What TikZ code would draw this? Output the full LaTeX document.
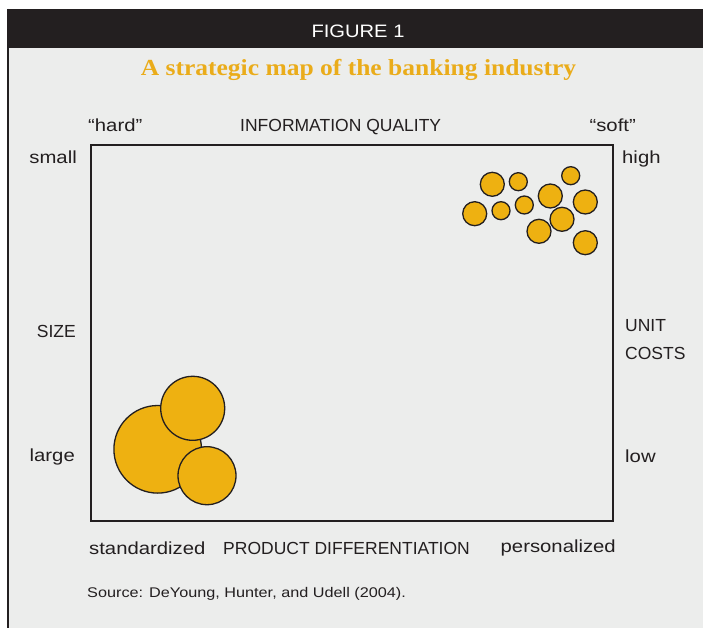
\documentclass[tikz,border=0pt]{standalone}
\usepackage{fontspec}
\setmainfont{Liberation Sans}
\newfontfamily\widefont[FakeStretch=1.16]{Liberation Sans}
\newfontfamily\figfont[FakeStretch=1.12]{Liberation Sans}
\newfontfamily\titlefont[FakeStretch=1.11]{Liberation Serif}
\definecolor{bggray}{HTML}{ECEDEC}
\definecolor{dark}{HTML}{231F20}
\definecolor{gold}{HTML}{EEB111}
\definecolor{titlegold}{HTML}{EAAC1A}
\begin{document}
\begin{tikzpicture}[x=1pt,y=-1pt,
  lbl/.style={inner sep=0pt,font=\fontsize{17.5}{20}\selectfont,text=dark},
  wlbl/.style={inner sep=0pt,font=\widefont\fontsize{17.5}{20}\selectfont,text=dark},
  src/.style={inner sep=0pt,font=\widefont\fontsize{14}{16}\selectfont,text=dark},
  ball/.style={circle,draw=dark,line width=1.3pt,fill=gold,inner sep=0pt,minimum size=#1}]
\useasboundingbox (0,0) rectangle (703,628);
\fill[white] (0,0) rectangle (703,628);
\fill[bggray] (8,9) rectangle (703,628);
\fill[dark] (8,9) rectangle (703,48);
\draw[dark,line width=2pt] (8,9) -- (8,628);
\node[inner sep=0pt,anchor=base,text=white,font=\figfont\fontsize{18}{20}\selectfont] (fig) at (358,37.7) {FIGURE 1};
\node[inner sep=0pt,anchor=base,text=titlegold,font=\titlefont\bfseries\fontsize{23}{25}\selectfont] (title) at (358.5,76) {A strategic map of the banking industry};
% frame
\draw[dark,line width=2.5pt] (91,145) rectangle (613,521);
\node[wlbl,anchor=base west] (hard) at (88,131.5) {“hard”};
\node[lbl,anchor=base west] (iq) at (240,131.5) {INFORMATION QUALITY};
\node[wlbl,anchor=base east] (soft) at (636,131.5) {“soft”};
\node[wlbl,anchor=base east] (small) at (77,164) {small};
\node[wlbl,anchor=base west] (high) at (622,164) {high};
\node[lbl,anchor=base east] (size) at (76,337.5) {SIZE};
\node[lbl,anchor=base west] (unit) at (625,331.5) {UNIT};
\node[lbl,anchor=base west] (costs) at (625,359.5) {COSTS};
\node[wlbl,anchor=base east] (large) at (75,461) {large};
\node[wlbl,anchor=base west] (low) at (625,462) {low};
\node[wlbl,anchor=base west] (std) at (89,554) {standardized};
\node[lbl,anchor=base west] (pd) at (223,554.5) {PRODUCT DIFFERENTIATION};
\node[wlbl,anchor=base east] (pers) at (616,552.3) {personalized};
\node[src,anchor=base west] (source) at (87,597.7) {Source: DeYoung, Hunter, and Udell (2004).};
% small banks
\node[ball=24pt] (s1) at (492.3,184.3) {};
\node[ball=18pt] (s2) at (518.3,181.7) {};
\node[ball=18pt] (s3) at (570.7,175.7) {};
\node[ball=24pt] (s4) at (550.3,196) {};
\node[ball=24pt] (s5) at (585.3,202) {};
\node[ball=24pt] (s6) at (474.7,213.7) {};
\node[ball=18pt] (s7) at (501,210.7) {};
\node[ball=18pt] (s8) at (524.3,205) {};
\node[ball=24pt] (s10) at (539,231.3) {};
\node[ball=24pt] (s9) at (562,219.3) {};
\node[ball=24pt] (s11) at (585.3,242.7) {};
% large banks
\node[ball=87.6pt] (b1) at (157.7,449.3) {};
\node[ball=64pt] (b2) at (192.7,408.3) {};
\node[ball=58pt] (b3) at (207,475.7) {};
\end{tikzpicture}
\end{document}
